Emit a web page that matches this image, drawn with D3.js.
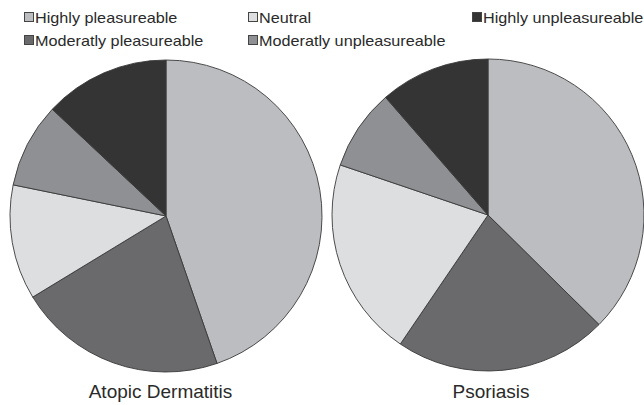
<!DOCTYPE html>
<html>
<head>
<meta charset="utf-8">
<script src="https://cdn.jsdelivr.net/npm/d3@7"></script>
<style>
  body { margin: 0; background: #fff; }
  svg { display: block; font-family: "Liberation Sans", Arial, sans-serif; }
</style>
</head>
<body>
<div id="chart"></div>
<script>
// categories in drawing order (clockwise from 12 o'clock), spelled as in the source
const categories = ['Highly pleasureable', 'Moderatly pleasureable', 'Neutral', 'Moderatly unpleasureable', 'Highly unpleasureable']
const colors = ['#bcbdc0', '#6a6a6d', '#dddee0', '#8f9093', '#343434']

// percentages
const atopicValues = [44.7, 21.6, 11.9, 8.8, 13.0]
const psoriasisValues = [37.4, 22.1, 20.7, 8.4, 11.4]
const pieTitles = ['Atopic Dermatitis', 'Psoriasis']

// legend layout: which category sits in which column/row
const legendItems = [
  { key: 'Highly pleasureable', col: 0, row: 0 },
  { key: 'Neutral', col: 1, row: 0 },
  { key: 'Highly unpleasureable', col: 2, row: 0 },
  { key: 'Moderatly pleasureable', col: 0, row: 1 },
  { key: 'Moderatly unpleasureable', col: 1, row: 1 }
]

const width = 644
const height = 405

const svg = d3.select('#chart')
  .append('svg')
  .attr('width', width)
  .attr('height', height)

const color = d3.scaleOrdinal()
  .domain(categories)
  .range(colors)

const pie = d3.pie().sort(null).value(d => d.value)
const radius = 156
const arc = d3.arc().innerRadius(0).outerRadius(radius)

const pies = [
  { title: pieTitles[0], values: atopicValues, cx: 166, cy: 216, labelX: 160.5 },
  { title: pieTitles[1], values: psoriasisValues, cx: 488, cy: 215, labelX: 491 }
]

pies.forEach(p => {
  const g = svg.append('g')
    .attr('transform', `translate(${p.cx},${p.cy})`)

  const data = categories.map((c, i) => ({ key: c, value: p.values[i] }))

  g.selectAll('path')
    .data(pie(data))
    .join('path')
    .attr('d', arc)
    .attr('fill', d => color(d.data.key))
    .attr('stroke', '#3a3a3a')
    .attr('stroke-width', 0.9)

  svg.append('text')
    .attr('x', p.labelX)
    .attr('y', 398)
    .attr('text-anchor', 'middle')
    .attr('font-size', 19)
    .attr('fill', '#2a2a2a')
    .text(p.title)
})

const legendX = [24, 248, 472]
const legendY = [18, 41]

const legend = svg.append('g')

legendItems.forEach(item => {
  const g = legend.append('g')
    .attr('transform', `translate(${legendX[item.col]},${legendY[item.row]})`)

  g.append('rect')
    .attr('x', 0.5)
    .attr('y', -5.5)
    .attr('width', 9)
    .attr('height', 9)
    .attr('fill', color(item.key))
    .attr('stroke', '#444')
    .attr('stroke-width', 1)

  g.append('text')
    .attr('transform', 'translate(11,5) scale(1.08,1)')
    .attr('font-size', 15)
    .attr('fill', '#2a2a2a')
    .text(item.key)
})
</script>
</body>
</html>
